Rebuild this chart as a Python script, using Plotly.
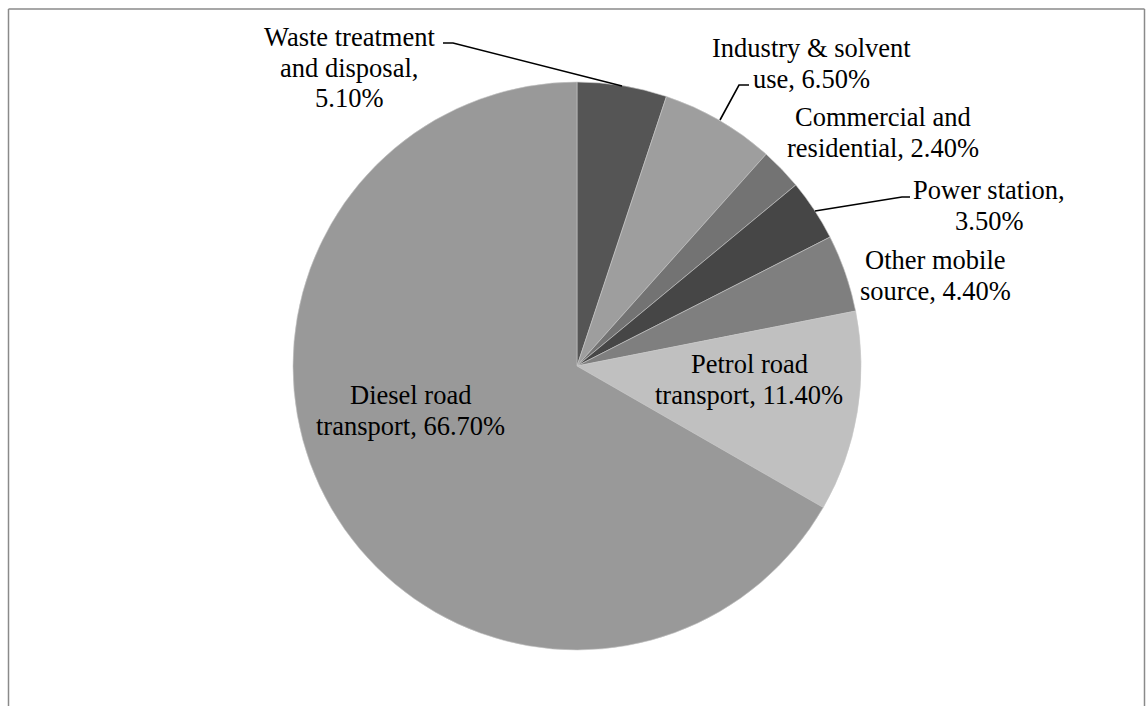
import plotly.graph_objects as go

# Source shares of emissions (percent)
sources = [
    "Waste treatment and disposal",
    "Industry & solvent use",
    "Commercial and residential",
    "Power station",
    "Other mobile source",
    "Petrol road transport",
    "Diesel road transport",
]
shares = [5.1, 6.5, 2.4, 3.5, 4.4, 11.4, 66.7]
slice_colors = ["#555555", "#9e9e9e", "#737373", "#464646", "#7f7f7f", "#c0c0c0", "#999999"]

# How each data label is wrapped; "{pct}" is filled from the share value
label_wraps = [
    ["Waste treatment", "and disposal,", "{pct}"],
    ["Industry & solvent", "use, {pct}"],
    ["Commercial and", "residential, {pct}"],
    ["Power station,", "{pct}"],
    ["Other mobile", "source, {pct}"],
    ["Petrol road", "transport, {pct}"],
    ["Diesel road", "transport, {pct}"],
]

W, H = 1146, 717
cx, cy, r = 577, 366, 284

# label anchor (centre x, first-line y) in pixels, and line step
label_pos = [(349, 37), (811, 48), (883, 117), (989, 190), (935, 260), (749, 364), (410, 395)]
line_step = 30.5

# leader lines for the outside labels, in pixels
leaders = {
    0: [(443, 43), (453, 43), (622, 86)],
    1: [(749, 85), (739, 85), (720, 120)],
    3: [(910, 197), (902, 197), (815, 211)],
}

fig = go.Figure()
fig.add_trace(go.Pie(
    labels=sources,
    values=shares,
    sort=False,
    direction="clockwise",
    rotation=0,
    textinfo="none",
    hoverinfo="skip",
    marker=dict(colors=slice_colors, line=dict(color="#c8c8c8", width=0.6)),
    domain=dict(x=[(cx - r) / W, (cx + r) / W], y=[1 - (cy + r) / H, 1 - (cy - r) / H]),
    showlegend=False,
))

annotations = []
for i, (wrap, val) in enumerate(zip(label_wraps, shares)):
    x0, y0 = label_pos[i]
    for k, line in enumerate(wrap):
        annotations.append(dict(
            x=x0, y=y0 + k * line_step, xref="x", yref="y",
            text=line.format(pct=f"{val:.2f}%"),
            showarrow=False, xanchor="center", yanchor="middle",
            font=dict(family="Liberation Serif", size=26.5, color="#000000"),
        ))

shapes = []
for pts in leaders.values():
    path = "M " + " L ".join(f"{x},{y}" for x, y in pts)
    shapes.append(dict(type="path", path=path, xref="x", yref="y",
                       line=dict(color="#000000", width=1.6)))

# outer chart frame: left, top and right edges
frame = dict(color="#8a8a8a", width=1.5)
for x0, y0, x1, y1 in [(8.5, 9, 8.5, 706), (8.5, 9, 1144.5, 9), (1144.5, 9, 1144.5, 706)]:
    shapes.append(dict(type="line", xref="paper", yref="paper",
                       x0=x0 / W, y0=1 - y0 / H, x1=x1 / W, y1=1 - y1 / H, line=frame))

fig.update_layout(
    width=W, height=H,
    margin=dict(l=0, r=0, t=0, b=0),
    paper_bgcolor="#ffffff",
    plot_bgcolor="rgba(0,0,0,0)",
    xaxis=dict(range=[0, W], visible=False, fixedrange=True),
    yaxis=dict(range=[H, 0], visible=False, fixedrange=True),
    annotations=annotations,
    shapes=shapes,
)

fig.write_html("out.html", config={"displayModeBar": False})
